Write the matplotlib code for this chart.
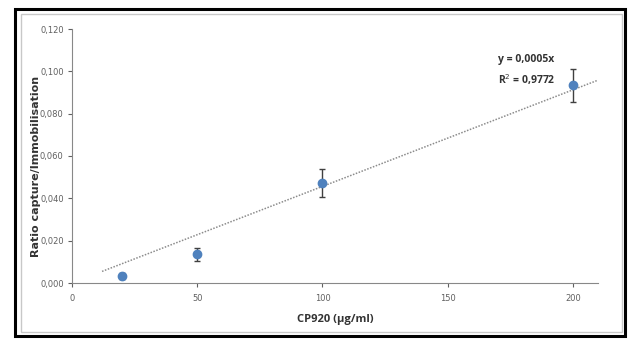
import numpy as np
import matplotlib.pyplot as plt
from matplotlib.patches import Rectangle

# Données
concentrations = [20, 50, 100, 200]
ratios = [0.0033, 0.0135, 0.0472, 0.0934]
erreurs = [0.0015, 0.0030, 0.0065, 0.0077]
x_ticks = [0, 50, 100, 150, 200]
y_ticks = [0.000, 0.020, 0.040, 0.060, 0.080, 0.100, 0.120]

# Régression linéaire passant par l'origine
x = np.array(concentrations)
y = np.array(ratios)
pente = np.sum(x * y) / np.sum(x * x)
x_ligne = np.array([12, 210])

fig = plt.figure(figsize=(6.28, 3.39), dpi=100)
ax = fig.add_axes([72 / 628, (339 - 283) / 339, (598 - 72) / 628, (283 - 29) / 339])

# Cadres extérieurs
fig.patches.append(Rectangle((15 / 628, 3 / 339), 610 / 628, 327 / 339, transform=fig.transFigure,
                             fill=False, edgecolor='black', linewidth=2.2))
fig.patches.append(Rectangle((21 / 628, 7 / 339), 601 / 628, 318 / 339, transform=fig.transFigure,
                             fill=False, edgecolor='#c8c8c8', linewidth=1))

ax.plot(x_ligne, pente * x_ligne, linestyle=(0, (1, 1)), color='#8c8c8c', linewidth=1.1)
ax.errorbar(concentrations, ratios, yerr=erreurs, fmt='o', color='#4f81bd', markersize=6,
            ecolor='#404040', elinewidth=1, capsize=2.5, capthick=1)

ax.set_xlim(0, 210)
ax.set_ylim(0, 0.120)
ax.set_xticks(x_ticks)
ax.set_yticks(y_ticks)
ax.set_yticklabels([f"{v:.3f}".replace('.', ',') for v in y_ticks])
ax.tick_params(labelsize=6, colors='#606060', length=3, width=0.8, pad=3)
ax.tick_params(axis='x', pad=5)
for s in ['top', 'right']:
    ax.spines[s].set_visible(False)
for s in ['left', 'bottom']:
    ax.spines[s].set_color('#888888')
    ax.spines[s].set_linewidth(0.8)

ax.set_xlabel("CP920 (µg/ml)", fontsize=8, fontweight='bold', color='#333333', family='Open Sans', labelpad=8)
ax.set_ylabel("Ratio capture/Immobilisation", fontsize=8, fontweight='bold', color='#333333',
              family='DejaVu Sans')
ax.yaxis.set_label_coords(-0.059, 0.46)

ax.text(170, 0.1002, "y = 0,0005x\nR$^2$ = 0,9772", fontsize=7.5, fontweight='bold', color='#333333',
        family='Open Sans', va='center', ha='left', linespacing=1.6)

plt.savefig('out.png', dpi=100)
